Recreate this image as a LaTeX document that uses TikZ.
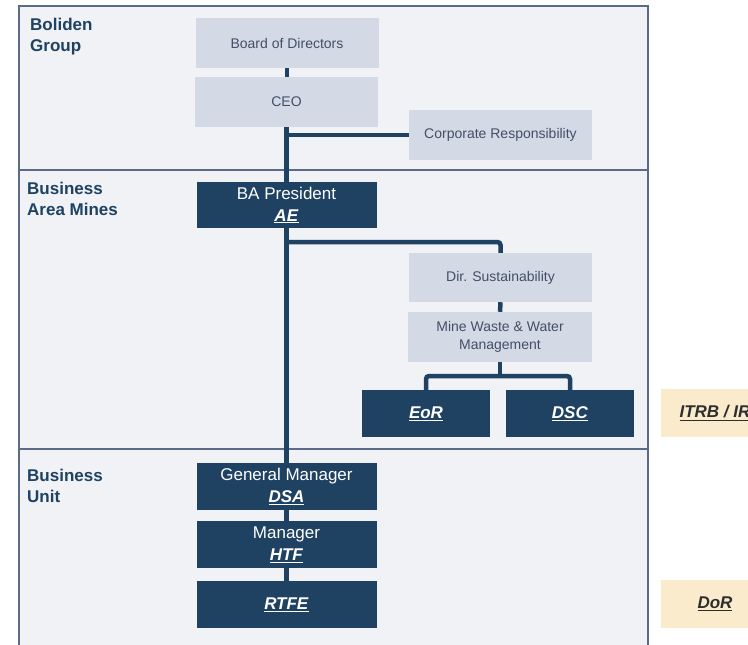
\documentclass[tikz,border=0pt]{standalone}
\usepackage{fontspec}
\setmainfont{Liberation Sans}
\usepackage{xcolor}
\usetikzlibrary{positioning}

\definecolor{navy}{HTML}{1F4262}
\definecolor{paneFill}{HTML}{F0F2F6}
\definecolor{paneLine}{HTML}{5B6B86}
\definecolor{boxFill}{HTML}{D3DAE5}
\definecolor{boxText}{HTML}{434F66}
\definecolor{noteFill}{HTML}{FAEBCC}
\definecolor{noteText}{HTML}{2E2E2E}

\newcommand{\roleTag}[1]{\underline{\textbf{\textit{#1}}}}

\begin{document}
\begin{tikzpicture}[x=1pt, y=-1pt,
    lightbox/.style={fill=boxFill, text=boxText, minimum width=183, minimum height=50,
        inner sep=0pt, align=center, font=\fontsize{14}{18}\selectfont},
    darkbox/.style={fill=navy, text=white, minimum width=180, minimum height=47,
        inner sep=0pt, align=center, font=\fontsize{17}{22}\selectfont},
    notebox/.style={fill=noteFill, text=noteText, minimum width=108, minimum height=48,
        inner sep=0pt, align=center, font=\fontsize{17}{21}\selectfont},
    lanelabel/.style={anchor=north west, inner sep=0pt, align=left, text=navy,
        font=\fontsize{17}{21}\selectfont\bfseries},
    link/.style={draw=navy, line width=4.5pt}]

    % Canvas
    \useasboundingbox (0,0) rectangle (748,645);
    \clip (0,0) rectangle (748,645);

    % Lanes
    \draw[paneLine, fill=paneFill, line width=1.5pt] (19,6) rectangle (648,670);
    \draw[paneLine, line width=1.5pt] (19,170) -- (648,170);
    \draw[paneLine, line width=1.5pt] (19,449) -- (648,449);

    \node[lanelabel] (laneGroup) at (30,17.5) {Boliden\\Group};
    \node[lanelabel] (laneMines) at (27,181.5) {Business\\Area Mines};
    \node[lanelabel] (laneUnit) at (27,469) {Business\\Unit};

    % Boliden Group
    \node[lightbox] (board) at (287,43) {Board of Directors};
    \node[lightbox] (ceo) at (286.5,102) {CEO};
    \node[lightbox] (crp) at (500.5,135) {Corporate Responsibility};

    % Business Area Mines
    \node[darkbox, minimum height=46] (bap) at (286.5,205) {BA President\\\roleTag{AE}};
    \node[lightbox, minimum height=49] (dirs) at (500.5,277.5) {Dir. Sustainability};
    \node[lightbox, minimum width=184] (mww) at (500,337) {Mine Waste \& Water\\Management};
    \node[darkbox, minimum width=128] (eor) at (426,413.5) {\roleTag{EoR}};
    \node[darkbox, minimum width=128] (dsc) at (570,413.5) {\roleTag{DSC}};
    \node[notebox] (itrb) at (715,413) {\roleTag{ITRB / IR}};

    % Business Unit
    \node[darkbox] (gm) at (286.5,486.5) {General Manager\\\roleTag{DSA}};
    \node[darkbox] (mgr) at (286.5,544.5) {Manager\\\roleTag{HTF}};
    \node[darkbox] (rtfe) at (286.5,604.5) {\roleTag{RTFE}};
    \node[notebox] (dor) at (715,604) {\roleTag{DoR}};

    % Reporting lines
    \coordinate (fork) at (286.5,242);
    \coordinate (split) at (500,376);

    \draw[link] (board.south) -- (board.south |- ceo.north);
    \draw[link] (ceo.south) -- (bap.north);
    \draw[link] (ceo.south |- crp.west) -- (crp.west);
    \draw[link] (bap.south) -- (gm.north);
    \draw[link, rounded corners=3pt] (fork) -| (dirs.north);
    \draw[link] (dirs.south) -- (mww.north);
    \draw[link] (mww.south) -- (split);
    \draw[link, rounded corners=3pt] (split) -| (eor.north);
    \draw[link, rounded corners=3pt] (split) -| (dsc.north);
    \draw[link] (gm.south) -- (mgr.north);
    \draw[link] (mgr.south) -- (rtfe.north);

\end{tikzpicture}
\end{document}
